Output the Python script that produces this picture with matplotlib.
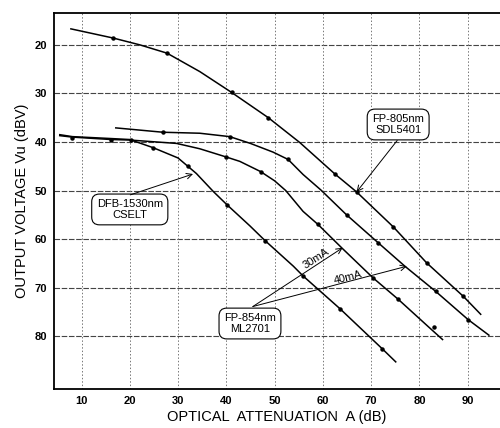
import matplotlib
matplotlib.use("Agg")
import matplotlib.pyplot as plt

plt.rcParams['font.family'] = ['Liberation Sans', 'DejaVu Sans']

# FP-805nm SDL5401
a_x = [7.8, 16.6, 22.1, 27.7, 34.5, 41.1, 48.7, 55.2, 62.5, 67.0, 74.6, 81.5, 89.1, 92.7]
a_y = [16.7, 18.6, 20.0, 21.7, 25.5, 29.8, 35.0, 40.1, 46.6, 50.3, 57.5, 64.9, 71.8, 75.5]
a_mx = [16.6, 27.7, 41.1, 48.7, 62.5, 67.0, 74.6, 81.5, 89.1]
a_my = [18.6, 21.7, 29.8, 35.0, 46.6, 50.3, 57.5, 64.9, 71.8]

# FP-854nm ML2701, 40mA
b_x = [17.1, 26.9, 34.5, 40.7, 45.0, 49.7, 52.8, 55.9, 59.6, 64.9, 71.5, 77.0, 83.4, 90.1, 94.4]
b_y = [37.1, 38.0, 38.2, 38.9, 40.3, 42.1, 43.6, 46.7, 49.9, 55.0, 60.8, 65.6, 70.8, 76.6, 79.8]
b_mx = [26.9, 40.7, 52.8, 64.9, 71.5, 83.4, 90.1]
b_my = [38.0, 38.9, 43.6, 55.0, 60.8, 70.8, 76.6]

# FP-854nm ML2701, 30mA
c_x = [5.5, 8.1, 16.2, 20.0, 29.7, 34.5, 40.0, 42.8, 47.1, 50.0, 52.3, 55.9, 59.0, 63.9, 70.4, 75.6, 81.9, 84.8]
c_y = [38.7, 39.0, 39.5, 39.6, 40.3, 41.4, 43.1, 44.0, 46.1, 48.0, 50.0, 54.3, 57.0, 61.8, 68.0, 72.4, 78.1, 80.7]
c_mx = [8.1, 16.2, 20.3, 40.0, 47.1, 59.0, 70.4, 75.6, 83.0]
c_my = [39.2, 39.5, 39.5, 43.1, 46.1, 57.0, 68.0, 72.4, 78.1]

# DFB-1530nm CSELT
d_x = [5.5, 8.1, 16.2, 20.0, 24.9, 30.0, 33.8, 37.3, 40.1, 44.9, 48.0, 53.9, 55.9, 63.6, 72.3, 75.1]
d_y = [38.5, 38.9, 39.3, 39.5, 41.2, 43.3, 46.5, 50.2, 52.9, 57.3, 60.3, 65.6, 67.6, 74.4, 82.6, 85.3]
d_mx = [24.9, 32.1, 40.1, 48.0, 55.9, 63.6, 72.3]
d_my = [41.2, 44.9, 52.9, 60.3, 67.6, 74.4, 82.6]

x_ticks = [10, 20, 30, 40, 50, 60, 70, 80, 90]
y_ticks = [20, 30, 40, 50, 60, 70, 80]

fig = plt.figure(figsize=(5.0, 4.28), dpi=100)
ax = fig.add_axes([0.108, 0.091, 0.892, 0.879])

for xs, ys, mxs, mys in [(a_x, a_y, a_mx, a_my), (b_x, b_y, b_mx, b_my),
                         (c_x, c_y, c_mx, c_my), (d_x, d_y, d_mx, d_my)]:
    ax.plot(xs, ys, color='black', lw=1.1, zorder=3)
    ax.plot(mxs, mys, 'o', color='black', ms=2.2, zorder=4)

ax.set_xlim(4.3, 96.7)
ax.set_ylim(90.9, 13.4)
ax.set_xticks(x_ticks)
ax.set_yticks(y_ticks)
ax.tick_params(axis='x', length=0, labelsize=8, pad=5)
ax.tick_params(axis='y', length=0, labelsize=8, pad=5)
for lab in ax.get_xticklabels() + ax.get_yticklabels():
    lab.set_fontweight('bold')

for v in y_ticks:
    ax.axhline(v, color='#444444', lw=0.8, ls=(0, (5, 1.5)), zorder=1)
for v in x_ticks:
    ax.axvline(v, color='#777777', lw=0.7, ls=(0, (1.5, 2)), zorder=1)

ax.spines['right'].set_visible(False)
for s in ['left', 'bottom', 'top']:
    ax.spines[s].set_linewidth(1.3)

ax.set_xlabel('OPTICAL  ATTENUATION  A (dB)', fontsize=10.5, labelpad=3)
ax.set_ylabel('OUTPUT VOLTAGE Vu (dBV)', fontsize=10.5, labelpad=4)

box = dict(boxstyle='round,pad=0.45,rounding_size=0.7', fc='white', ec='black', lw=0.8)
arr = dict(arrowstyle='->', color='black', lw=0.7, shrinkA=0, shrinkB=0)

ax.text(20.0, 53.9, 'DFB-1530nm\nCSELT', ha='center', va='center', fontsize=8,
        bbox=box, zorder=5, linespacing=1.1)
ax.annotate('', xy=(33.1, 46.6), xytext=(20.1, 50.9), arrowprops=arr, zorder=5)

ax.text(75.6, 36.4, 'FP-805nm\nSDL5401', ha='center', va='center', fontsize=8,
        bbox=box, zorder=5, linespacing=1.1)
ax.annotate('', xy=(67.0, 50.3), xytext=(75.4, 39.7), arrowprops=arr, zorder=5)

ax.text(44.9, 77.4, 'FP-854nm\nML2701', ha='center', va='center', fontsize=8,
        bbox=box, zorder=5, linespacing=1.1)
ax.annotate('', xy=(64.1, 61.8), xytext=(45.5, 73.9), arrowprops=arr, zorder=5)
ax.annotate('', xy=(77.4, 65.6), xytext=(45.5, 73.9), arrowprops=arr, zorder=5)
ax.text(58.5, 64.0, '30mA', fontsize=8, rotation=33, ha='center', va='center', zorder=5)
ax.text(65.3, 67.9, '40mA', fontsize=8, rotation=14, ha='center', va='center', zorder=5)

fig.savefig('out.png', dpi=100)
